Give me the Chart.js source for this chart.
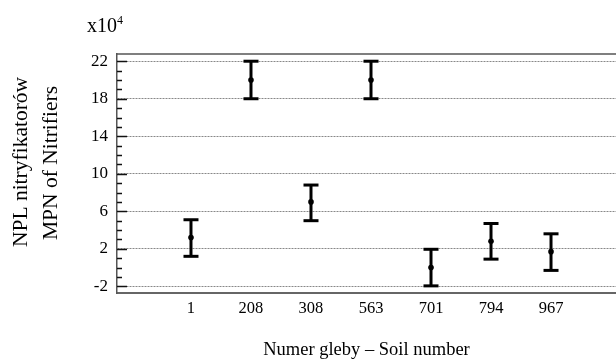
<!DOCTYPE html>
<html><head><meta charset="utf-8">
<script src="https://cdn.jsdelivr.net/npm/chart.js@4"></script>
<style>html,body{margin:0;padding:0;background:#fff;}#wrap{width:616px;height:359px;position:relative;}</style>
</head><body>
<div id="wrap"><canvas id="c" width="616" height="359"></canvas></div>
<script>
const categories = ['1','208','308','563','701','794','967'];
const means = [3.2, 20.0, 7.0, 20.0, 0.0, 2.8, 1.7];
const upper = [5.1, 22.0, 8.8, 22.0, 1.95, 4.7, 3.6];
const lower = [1.2, 18.0, 5.0, 18.0, -1.95, 0.9, -0.3];
const yTicks = [-2, 2, 6, 10, 14, 18, 22];
const yMinorTicks = Array.from({length: 25}, (_, i) => i - 2);
const yTitleLines = ['NPL nitryfikatorów', 'MPN of Nitrifiers'];

const FONT = 'Liberation Serif';

const whiskerData = [];
categories.forEach((c, i) => {
  whiskerData.push({x: i, y: lower[i]});
  whiskerData.push({x: i, y: upper[i]});
  whiskerData.push({x: i, y: null});
});
const capData = [];
categories.forEach((c, i) => {
  capData.push({x: i, y: lower[i]});
  capData.push({x: i, y: upper[i]});
});
const meanData = categories.map((c, i) => ({x: i, y: means[i]}));

const extras = {
  id: 'extras',
  afterDraw(chart) {
    const ctx = chart.ctx, a = chart.chartArea, ys = chart.scales.y;
    ctx.save();
    ctx.strokeStyle = '#555'; ctx.lineWidth = 1.5;
    ctx.beginPath(); ctx.moveTo(a.left, a.top); ctx.lineTo(a.right, a.top); ctx.stroke();
    ctx.strokeStyle = '#111'; ctx.lineWidth = 1.5;
    yMinorTicks.forEach(v => {
      const y = Math.round(ys.getPixelForValue(v)) + 0.5;
      const len = yTicks.includes(v) ? 10 : 5;
      ctx.beginPath(); ctx.moveTo(a.left, y); ctx.lineTo(a.left + len, y); ctx.stroke();
    });
    ctx.fillStyle = '#000';
    ctx.font = '20px "' + FONT + '"';
    ctx.textBaseline = 'alphabetic';
    ctx.textAlign = 'left';
    ctx.fillText('x10', 87, 32);
    const w = ctx.measureText('x10').width;
    ctx.font = '12px "' + FONT + '"';
    ctx.fillText('4', 87 + w, 24);
    // y axis title (two lines, rotated)
    ctx.font = '21.5px "' + FONT + '"';
    ctx.textAlign = 'center';
    ctx.textBaseline = 'alphabetic';
    const pos = [[27, 162], [57, 163]];
    yTitleLines.forEach((t, i) => {
      ctx.save();
      ctx.translate(pos[i][0], pos[i][1]);
      ctx.rotate(-Math.PI / 2);
      ctx.fillText(t, 0, 0);
      ctx.restore();
    });
    ctx.restore();
  }
};

new Chart(document.getElementById('c'), {
  type: 'scatter',
  data: {
    datasets: [
      {data: whiskerData, showLine: true, spanGaps: false, borderColor: '#000', borderWidth: 3, pointRadius: 0, borderCapStyle: 'butt'},
      {data: capData, showLine: false, pointStyle: 'line', pointRadius: 7.5, pointBorderWidth: 3, borderColor: '#000', backgroundColor: '#000'},
      {data: meanData, showLine: false, pointStyle: 'circle', pointRadius: 2.8, pointBorderWidth: 0, borderColor: '#000', backgroundColor: '#000'}
    ]
  },
  options: {
    responsive: false,
    animation: false,
    events: [],
    layout: {autoPadding: false, padding: {top: 54, right: 0, left: 0, bottom: 0}},
    plugins: {legend: {display: false}, tooltip: {enabled: false}},
    scales: {
      x: {
        type: 'linear',
        min: -1.233, max: 7.083,
        afterBuildTicks(s) { s.ticks = categories.map((c, i) => ({value: i})); },
        afterFit(s) { s.height = 66; s.paddingLeft = 0; s.paddingRight = 0; },
        ticks: {color: '#000', font: {family: FONT, size: 16.5}, padding: 6, maxRotation: 0, autoSkip: false,
          callback: (v) => categories[v] !== undefined ? categories[v] : ''},
        grid: {display: false, drawTicks: false},
        border: {display: true, color: '#666', width: 2},
        title: {display: true, text: 'Numer gleby \u2013 Soil number', color: '#000', font: {family: FONT, size: 18.5, lineHeight: 1}, padding: {top: 10, bottom: 0}}
      },
      y: {
        type: 'linear',
        min: -2.71, max: 22.77,
        afterBuildTicks(s) { s.ticks = yTicks.map(v => ({value: v})); },
        afterFit(s) { s.width = 117; s.paddingTop = 0; s.paddingBottom = 0; },
        ticks: {color: '#000', font: {family: FONT, size: 17}, padding: 9},
        grid: {color: '#888', lineWidth: 1, drawTicks: false},
        border: {display: true, color: '#555', width: 1.5, dash: [2, 1]},
        title: {display: false}
      }
    }
  },
  plugins: [extras]
});
</script>
</body></html>
